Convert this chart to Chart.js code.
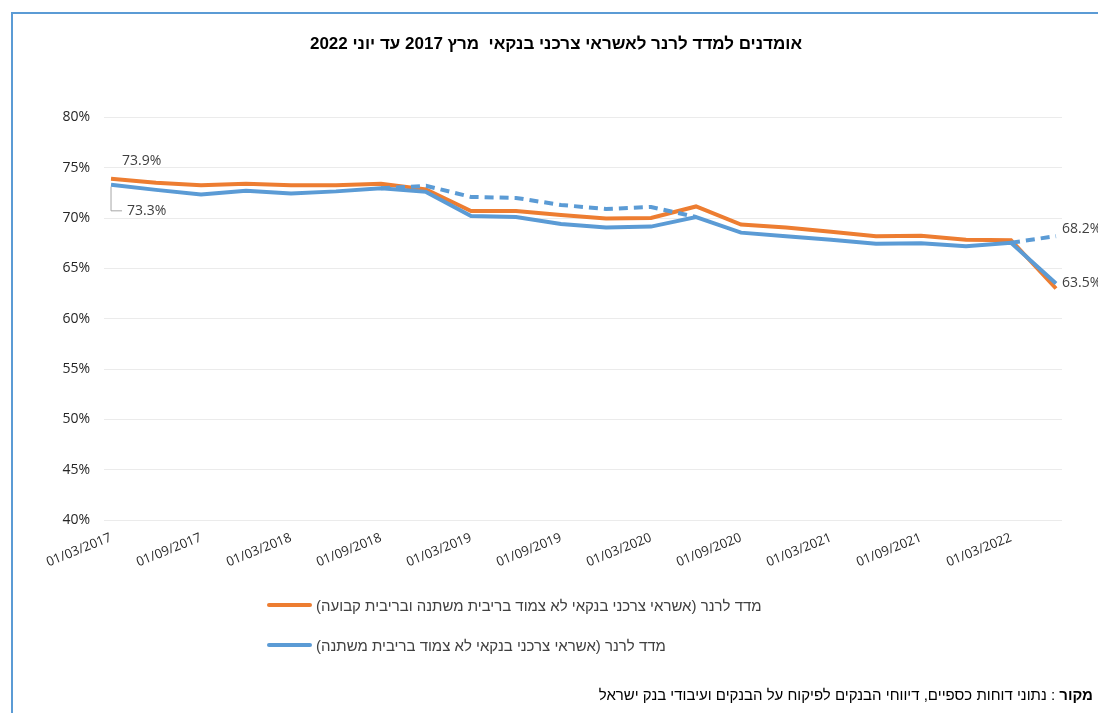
<!DOCTYPE html>
<html lang="he">
<head>
<meta charset="UTF-8">
<script src="https://cdn.jsdelivr.net/npm/chart.js"></script>
<title>מדד לרנר</title>
<style>
  body { margin: 0; background: #fff; }
  #wrap { position: relative; width: 1098px; height: 713px; overflow: hidden; }
  #frame { position: absolute; left: 11px; top: 12px; width: 1200px; height: 800px;
           border-left: 2px solid #5b9bd5; border-top: 2px solid #5b9bd5; }
  #grafico { position: absolute; left: 0; top: 0; direction: rtl; }
  #legenda { position: absolute; left: 267px; top: 594px; font-family: "Liberation Sans", Arial, sans-serif;
             font-size: 15px; color: #404040; }
  .item { display: flex; align-items: center; height: 22px; margin-bottom: 18px; direction: ltr; }
  .linha { width: 45px; height: 4px; border-radius: 2px; margin-right: 4px; }
  #fonte { position: absolute; right: 5px; top: 686px; direction: rtl; font-family: "Liberation Sans", Arial, sans-serif;
           font-size: 15px; color: #000; }
</style>
</head>
<body>
<div id="wrap">
  <div id="frame"></div>
  <canvas id="grafico" width="1098" height="713"></canvas>
  <div id="legenda"></div>
  <div id="fonte"><b>מקור</b> : נתוני דוחות כספיים, דיווחי הבנקים לפיקוח על הבנקים ועיבודי בנק ישראל</div>
</div>
<script>
  var titulo = 'אומדנים למדד לרנר לאשראי צרכני בנקאי  מרץ 2017 עד יוני 2022'

  // quarterly dates, one per point
  var datas = ['01/03/2017', '01/06/2017', '01/09/2017', '01/12/2017',
    '01/03/2018', '01/06/2018', '01/09/2018', '01/12/2018',
    '01/03/2019', '01/06/2019', '01/09/2019', '01/12/2019',
    '01/03/2020', '01/06/2020', '01/09/2020', '01/12/2020',
    '01/03/2021', '01/06/2021', '01/09/2021', '01/12/2021',
    '01/03/2022', '01/06/2022']

  var nomeFixa = 'מדד לרנר (אשראי צרכני בנקאי לא צמוד בריבית משתנה ובריבית קבועה)'
  var nomeVariavel = 'מדד לרנר (אשראי צרכני בנקאי לא צמוד בריבית משתנה)'

  var serieFixa = [73.9, 73.5, 73.25, 73.4, 73.25, 73.25, 73.4, 72.85, 70.7, 70.7, 70.3, 69.95,
    70.0, 71.15, 69.35, 69.05, 68.65, 68.2, 68.25, 67.85, 67.8, 63.0]
  var serieVariavel = [73.3, 72.8, 72.35, 72.7, 72.45, 72.65, 72.95, 72.6, 70.2, 70.1, 69.4, 69.05,
    69.15, 70.1, 68.55, 68.2, 67.85, 67.45, 67.5, 67.2, 67.55, 63.5]
  // alternative estimate (dashed)
  var serieTracejada = [null, null, null, null, null, null, 72.95, 73.2, 72.1, 72.0, 71.3, 70.9,
    71.1, 70.1, null, null, null, null, null, null, 67.55, 68.2]

  var ticksY = [40, 45, 50, 55, 60, 65, 70, 75, 80]

  var laranja = '#ED7D31'
  var azul = '#5B9BD5'

  function pontos(serie) {
    return serie.map((v, i) => ({ x: i, y: v }))
  }

  // data labels: [dataset, index, dx, dy, leader]
  var rotulos = [
    [2, 0, 11, -18, false],
    [1, 0, 16, 26, true],
    [0, 21, 6, -7, false],
    [1, 21, 6, 0, false]
  ]

  var pluginRotulos = {
    id: 'rotulos',
    afterDatasetsDraw(chart) {
      const ctx = chart.ctx
      ctx.save()
      ctx.font = '14px "Open Sans", sans-serif'
      ctx.fillStyle = '#404040'
      ctx.textAlign = 'left'
      ctx.textBaseline = 'middle'
      rotulos.forEach(r => {
        const ds = chart.data.datasets[r[0]]
        const meta = chart.getDatasetMeta(r[0])
        const p = meta.data[r[1]]
        const v = ds.data[r[1]].y
        const x = p.x + r[2]
        const y = p.y + r[3]
        if (r[4]) {
          ctx.strokeStyle = '#a6a6a6'
          ctx.lineWidth = 1
          ctx.beginPath()
          ctx.moveTo(p.x, p.y + 2)
          ctx.lineTo(p.x, y)
          ctx.lineTo(x - 5, y)
          ctx.stroke()
        }
        ctx.fillText(v.toFixed(1) + '%', x, y)
      })
      ctx.restore()
    }
  }

  var config = {
    type: 'line',
    data: {
      datasets: [
        {
          label: '',
          data: pontos(serieTracejada),
          borderColor: azul,
          borderWidth: 4,
          borderDash: [9, 6],
          pointRadius: 0,
          spanGaps: false,
          order: 1
        },
        {
          label: nomeVariavel,
          data: pontos(serieVariavel),
          borderColor: azul,
          borderWidth: 4,
          pointRadius: 0,
          order: 2
        },
        {
          label: nomeFixa,
          data: pontos(serieFixa),
          borderColor: laranja,
          borderWidth: 4,
          pointRadius: 0,
          order: 3
        }
      ]
    },
    options: {
      responsive: false,
      animation: false,
      layout: { padding: { left: 50, right: 36, top: 0, bottom: 143 } },
      plugins: {
        legend: { display: false },
        tooltip: { enabled: false },
        title: {
          display: true,
          text: titulo,
          color: '#000',
          font: { family: '"Liberation Sans", Arial, sans-serif', size: 17, weight: 'bold' },
          padding: { top: 34, bottom: 63 }
        }
      },
      scales: {
        x: {
          type: 'linear',
          min: -0.156,
          max: 21.133,
          grid: { display: false },
          border: { display: false },
          afterBuildTicks(scale) {
            scale.ticks = datas.map((d, i) => ({ value: i })).filter(t => t.value % 2 === 0)
          },
          afterFit(scale) { scale.height = 50 },
          ticks: {
            autoSkip: false,
            minRotation: 22,
            maxRotation: 22,
            padding: 2,
            color: '#262626',
            font: { family: '"Open Sans", sans-serif', size: 13 },
            callback: (v) => datas[v]
          }
        },
        y: {
          min: 40,
          max: 80,
          grid: { color: '#ebebeb', drawTicks: false },
          border: { display: false },
          afterBuildTicks(scale) {
            scale.ticks = ticksY.map(v => ({ value: v }))
          },
          afterFit(scale) { scale.width = 54 },
          ticks: {
            padding: 14,
            color: '#262626',
            font: { family: '"Open Sans", sans-serif', size: 14 },
            callback: (v) => v + '%'
          }
        }
      }
    },
    plugins: [pluginRotulos]
  }

  var grafico = new Chart(document.getElementById('grafico'), config)

  // html legend, orange first like the original
  var legenda = document.getElementById('legenda')
  ;[[nomeFixa, laranja], [nomeVariavel, azul]].forEach(item => {
    var div = document.createElement('div')
    div.className = 'item'
    var linha = document.createElement('span')
    linha.className = 'linha'
    linha.style.background = item[1]
    var txt = document.createElement('span')
    txt.dir = 'rtl'
    txt.textContent = item[0]
    div.appendChild(linha)
    div.appendChild(txt)
    legenda.appendChild(div)
  })
</script>
</body>
</html>
